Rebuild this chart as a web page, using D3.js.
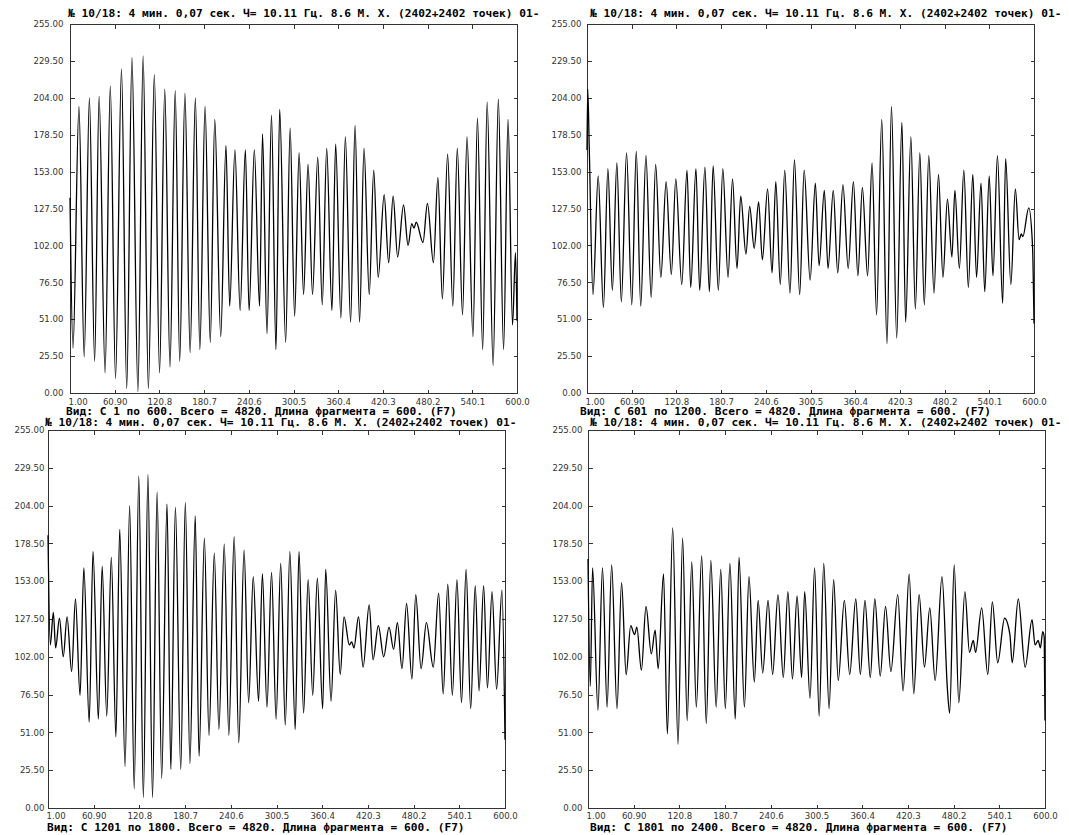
<!DOCTYPE html>
<html>
<head>
<meta charset="utf-8">
<script src="https://cdn.jsdelivr.net/npm/d3@7/dist/d3.min.js"></script>
<style>
  body { margin: 0; background: #fff; }
  svg { display: block; }
  .hdr { font-family: "DejaVu Sans Mono", "Liberation Mono", monospace; font-weight: bold; font-size: 11.2px; fill: #000; }
  .axis text { font-family: "DejaVu Sans", Arial, sans-serif; font-size: 8.6px; fill: #333; }
  .axis path, .axis line { stroke: #333; shape-rendering: crispEdges; }
  .wave { fill: none; stroke: #000; stroke-width: 1.3; stroke-linejoin: round; }
</style>
</head>
<body>
<svg id="chart" width="1069" height="835"></svg>
<script>
// Header shared by every view of the record
const titleText = "№ 10/18: 4 мин. 0,07 сек. Ч= 10.11 Гц. 8.6 М. Х. (2402+2402 точек) 01-";

// Footer per view
const footerTexts = [
  "Вид: С 1 по 600. Всего = 4820. Длина фрагмента = 600. (F7)",
  "Вид: С 601 по 1200. Всего = 4820. Длина фрагмента = 600. (F7)",
  "Вид: С 1201 по 1800. Всего = 4820. Длина фрагмента = 600. (F7)",
  "Вид: С 1801 по 2400. Всего = 4820. Длина фрагмента = 600. (F7)"
];

// Axis labels
const yTickLabels = ["0.00", "25.50", "51.00", "76.50", "102.00", "127.50", "153.00", "178.50", "204.00", "229.50", "255.00"];
const xTickLabels = ["1.00", "60.90", "120.8", "180.7", "240.6", "300.5", "360.4", "420.3", "480.2", "540.1", "600.0"];

// Signal turning points: sample number within the fragment and amplitude
const view1T = [1,5,13,20,27,34,40,48,55,62,70,77,84,92,99,106,114,121,128,135,142,148,155,162,169,175,182,189,195,203,210,215,222,229,236,241,248,255,259,265,271,277,282,290,296,302,308,314,320,326,333,339,345,352,357,364,370,377,383,389,395,402,408,414,422,428,434,440,448,454,459,462,465,474,480,488,494,500,507,514,520,527,533,541,547,554,560,568,575,582,588,594,598,600];
const view1V = [135,31,198,25,204,22,205,14,212,10,224,3,232,1,233,3,220,14,210,18,209,22,207,28,204,30,198,35,189,39,171,60,168,57,168,57,168,60,179,41,192,30,196,35,183,53,166,68,158,68,163,61,169,57,172,52,177,49,185,49,169,68,154,80,137,90,136,94,130,102,117,114,118,104,131,90,149,65,165,60,169,54,177,39,190,30,201,19,203,30,189,47,97,50];

const view2T = [1,2,4,9,16,23,29,35,41,47,54,61,67,73,80,87,93,100,107,114,120,128,135,140,147,152,159,165,170,177,183,190,196,202,207,214,219,225,231,236,243,249,254,260,266,273,279,286,292,300,307,312,319,324,331,337,344,351,358,364,370,377,383,389,396,403,409,416,423,428,435,441,447,453,459,466,472,478,484,490,494,500,506,512,518,523,529,534,540,545,551,558,562,569,575,580,583,585,593,598,600];
const view2V = [168,210,170,68,150,59,155,71,159,63,166,61,167,60,164,66,158,80,146,82,148,75,154,73,155,71,156,70,157,71,155,80,148,86,136,96,129,100,132,92,141,83,146,75,154,69,161,68,154,78,145,88,140,86,140,83,144,86,146,81,142,81,159,54,189,34,198,38,187,49,177,58,166,61,164,69,151,80,134,94,140,86,154,73,151,80,145,70,150,81,164,62,162,75,141,106,110,108,128,102,48];

const view3T = [1,4,8,11,16,21,26,32,37,43,48,55,60,67,72,78,84,90,95,102,108,114,120,126,132,138,144,150,157,162,168,175,181,187,194,199,206,212,219,225,232,238,245,251,258,264,270,277,282,288,294,300,306,312,318,325,330,336,342,348,354,361,365,372,378,384,389,396,399,402,408,414,422,427,434,441,448,454,459,465,471,478,483,490,497,506,513,519,525,531,537,543,549,555,561,566,572,577,583,589,596,600];
const view3V = [184,110,132,108,128,102,129,92,141,76,162,58,173,60,163,62,169,48,188,28,204,13,224,7,225,7,213,20,205,26,203,26,206,30,197,35,182,49,172,53,178,49,183,44,174,71,156,72,158,68,159,60,165,56,173,53,173,64,154,76,155,67,161,72,147,90,129,110,112,108,129,95,137,100,123,102,122,107,125,94,138,87,144,94,125,95,145,77,151,76,154,71,161,67,150,79,150,81,146,80,147,46];

const view4T = [1,4,7,14,20,26,32,39,45,51,57,62,65,71,77,84,89,93,100,105,112,119,125,131,137,143,150,156,162,169,175,181,187,194,199,206,212,219,224,230,237,243,250,257,263,269,275,281,285,292,298,304,310,317,323,329,337,344,352,358,364,371,377,384,391,398,407,414,422,428,435,442,449,456,465,472,475,481,487,495,501,506,509,517,525,531,538,547,554,557,565,574,583,587,591,594,597,599,600];
const view4V = [168,82,162,66,162,68,164,67,152,90,123,117,122,93,136,104,120,94,158,50,189,43,182,59,166,68,170,57,167,68,161,67,165,60,169,68,156,85,140,91,140,90,144,88,146,87,143,88,146,74,162,62,165,67,154,86,140,90,141,90,140,88,141,89,136,92,144,79,158,77,144,95,135,86,156,81,64,164,71,146,105,113,105,135,90,139,98,128,117,98,141,95,127,110,113,108,119,115,59];

// Screen layout of the four views
const views = [
  { t: view1T, v: view1V, footer: footerTexts[0], x0: 70,  y0: 24,  w: 447, h: 369, titleX: 68,  titleY: 17,  footX: 66,  footY: 415, xLabY: 404, yLabGap: 7 },
  { t: view2T, v: view2V, footer: footerTexts[1], x0: 587, y0: 24,  w: 447, h: 369, titleX: 590, titleY: 17,  footX: 580, footY: 415, xLabY: 404, yLabGap: 6 },
  { t: view3T, v: view3V, footer: footerTexts[2], x0: 48,  y0: 430, w: 457, h: 378, titleX: 45,  titleY: 426, footX: 47,  footY: 831, xLabY: 818, yLabGap: 4 },
  { t: view4T, v: view4V, footer: footerTexts[3], x0: 588, y0: 430, w: 457, h: 378, titleX: 590, titleY: 426, footX: 590, footY: 831, xLabY: 818, yLabGap: 6 }
];

const svg = d3.select("#chart");
const yTickValues = yTickLabels.map(Number);
const xTickValues = xTickLabels.map(Number);

views.forEach(p => {
  const x = d3.scaleLinear().domain([1, 600]).range([p.x0, p.x0 + p.w]);
  const y = d3.scaleLinear().domain([0, 255]).range([p.y0 + p.h, p.y0]);

  // frame
  svg.append("rect")
    .attr("x", p.x0 + 0.5).attr("y", p.y0 + 0.5)
    .attr("width", p.w).attr("height", p.h)
    .attr("fill", "none").attr("stroke", "#333")
    .attr("shape-rendering", "crispEdges");

  // bottom axis with labels, inward ticks
  const gb = svg.append("g").attr("class", "axis")
    .attr("transform", `translate(0,${p.y0 + p.h + 0.5})`)
    .call(d3.axisBottom(x).tickValues(xTickValues).tickSize(-4).tickPadding(0)
      .tickFormat((d, i) => xTickLabels[i]));
  gb.select(".domain").remove();
  gb.selectAll("text").attr("y", p.xLabY - (p.y0 + p.h)).attr("dy", 0);
  gb.select(".tick:first-of-type text").attr("text-anchor", "start").attr("x", -2);

  // top axis, ticks only
  const gt = svg.append("g").attr("class", "axis")
    .attr("transform", `translate(0,${p.y0 + 0.5})`)
    .call(d3.axisTop(x).tickValues(xTickValues).tickSize(-4).tickFormat(""));
  gt.select(".domain").remove();

  // left axis with labels
  const gl = svg.append("g").attr("class", "axis")
    .attr("transform", `translate(${p.x0 + 0.5},0)`)
    .call(d3.axisLeft(y).tickValues(yTickValues).tickSize(-4).tickPadding(p.yLabGap)
      .tickFormat((d, i) => yTickLabels[i]));
  gl.select(".domain").remove();
  gl.selectAll("text").attr("x", -p.yLabGap);

  // right axis, ticks only
  const gr = svg.append("g").attr("class", "axis")
    .attr("transform", `translate(${p.x0 + p.w + 0.5},0)`)
    .call(d3.axisRight(y).tickValues(yTickValues).tickSize(-4).tickFormat(""));
  gr.select(".domain").remove();

  // waveform
  const pts = p.t.map((t, i) => ({ t, v: p.v[i] }));
  const line = d3.line().x(d => x(d.t)).y(d => y(d.v)).curve(d3.curveMonotoneX);
  svg.append("path").datum(pts).attr("class", "wave").attr("d", line);

  // header and footer
  svg.append("text").attr("class", "hdr").attr("x", p.titleX).attr("y", p.titleY).text(titleText);
  svg.append("text").attr("class", "hdr").attr("x", p.footX).attr("y", p.footY).text(p.footer);
});
</script>
</body>
</html>
